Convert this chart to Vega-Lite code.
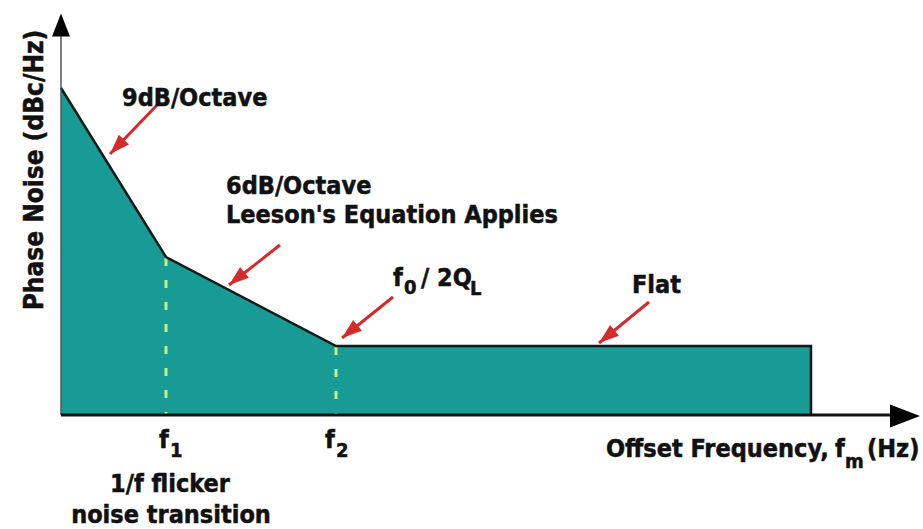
{
  "$schema": "https://vega.github.io/schema/vega-lite/v6.json",
  "width": 923,
  "height": 529,
  "autosize": "none",
  "padding": 0,
  "background": "white",
  "config": {
    "view": {"stroke": null},
    "text": {"font": "Liberation Sans Narrow, DejaVu Sans Condensed, Roboto, sans-serif", "fontWeight": "bold", "color": "#111111", "stroke": "#111111", "strokeWidth": 0.5}
  },
  "datasets": {
    "region": [
      {"x": 0, "y": 327},
      {"x": 105, "y": 158},
      {"x": 275, "y": 69},
      {"x": 750, "y": 69}
    ],
    "profile": [
      {"x": 0, "y": 327, "i": 0},
      {"x": 105, "y": 158, "i": 1},
      {"x": 275, "y": 69, "i": 2},
      {"x": 750, "y": 69, "i": 3},
      {"x": 750, "y": 0, "i": 4}
    ],
    "corners": [
      {"x": 105, "y": 157, "y2": 0},
      {"x": 275, "y": 68, "y2": 0}
    ],
    "xaxis": [{"x": 0, "y": 0, "x2": 832, "y2": 0}],
    "yaxis": [{"x": 0, "y": 0, "x2": 0, "y2": 386}],
    "xhead": [{"x": 844, "y": -1}],
    "yhead": [{"x": 0, "y": 390}],
    "pointer_steep": [{"x": 98, "y": 312, "x2": 49, "y2": 261}],
    "pointers": [
      {"x": 219, "y": 170, "x2": 168, "y2": 130},
      {"x": 332, "y": 118, "x2": 281, "y2": 77},
      {"x": 588, "y": 113, "x2": 538, "y2": 72}
    ],
    "labels": [
      {"x": 61, "y": 309, "label": "9dB/Octave"},
      {"x": 165, "y": 221, "label": "6dB/Octave"},
      {"x": 165, "y": 192, "label": "Leeson's Equation Applies"},
      {"x": 332, "y": 129, "label": "f"},
      {"x": 360, "y": 129, "label": "/"},
      {"x": 376, "y": 129, "label": "2Q"},
      {"x": 571, "y": 122, "label": "Flat"},
      {"x": 98, "y": -33, "label": "f"},
      {"x": 264, "y": -33, "label": "f"},
      {"x": 545, "y": -42, "label": "Offset Frequency,"},
      {"x": 774, "y": -42, "label": "f"},
      {"x": 806, "y": -42, "label": "(Hz)"}
    ],
    "subscripts": [
      {"x": 343, "y": 121, "label": "0"},
      {"x": 409, "y": 120, "label": "L"},
      {"x": 109, "y": -42, "label": "1"},
      {"x": 275, "y": -42, "label": "2"},
      {"x": 784, "y": -53, "label": "m"}
    ],
    "notes": [
      {"x": 109, "y": -77, "label": "1/f flicker"},
      {"x": 110, "y": -108, "label": "noise transition"}
    ],
    "ytitle": [{"x": -18, "y": 245, "label": "Phase Noise (dBc/Hz)"}]
  },
  "encoding": {
    "x": {"field": "x", "type": "quantitative", "scale": {"domain": [-61, 862], "nice": false, "zero": false}, "axis": null},
    "y": {"field": "y", "type": "quantitative", "scale": {"domain": [-114, 415], "nice": false, "zero": false}, "axis": null}
  },
  "layer": [
    {
      "data": {"name": "region"},
      "mark": {"type": "area", "fill": "#189a95", "fillOpacity": 1, "stroke": null},
      "encoding": {
        "y": {"field": "y", "type": "quantitative", "stack": null},
        "y2": {"datum": 0}
      }
    },
    {
      "data": {"name": "corners"},
      "mark": {"type": "rule", "color": "#c4ee86", "strokeWidth": 3, "strokeDash": [8, 14]},
      "encoding": {"y2": {"field": "y2"}}
    },
    {
      "data": {"name": "profile"},
      "mark": {"type": "line", "color": "#0d1a1a", "strokeWidth": 2.5, "strokeJoin": "miter"},
      "encoding": {"order": {"field": "i", "type": "quantitative"}}
    },
    {
      "data": {"name": "yaxis"},
      "mark": {"type": "rule", "color": "#555555", "strokeWidth": 1.5},
      "encoding": {"x2": {"field": "x2"}, "y2": {"field": "y2"}}
    },
    {
      "data": {"name": "xaxis"},
      "mark": {"type": "rule", "color": "#111111", "strokeWidth": 3},
      "encoding": {"x2": {"field": "x2"}, "y2": {"field": "y2"}}
    },
    {
      "data": {"name": "xhead"},
      "mark": {"type": "point", "shape": "M1,0L-1,-0.77L-1,0.77Z", "size": 900, "filled": true, "color": "#000000", "opacity": 1}
    },
    {
      "data": {"name": "yhead"},
      "mark": {"type": "point", "shape": "M0,-1L0.78,1L-0.78,1Z", "size": 529, "filled": true, "color": "#000000", "opacity": 1}
    },
    {
      "data": {"name": "pointer_steep"},
      "mark": {"type": "rule", "color": "#d42a2c", "strokeWidth": 3},
      "encoding": {"x2": {"field": "x2"}, "y2": {"field": "y2"}}
    },
    {
      "data": {"name": "pointer_steep"},
      "mark": {"type": "point", "shape": "M0,0L-2,-0.7L-2,0.7Z", "size": 400, "angle": 134, "filled": true, "color": "#d42a2c", "opacity": 1},
      "encoding": {"x": {"field": "x2", "type": "quantitative"}, "y": {"field": "y2", "type": "quantitative"}}
    },
    {
      "data": {"name": "pointers"},
      "mark": {"type": "rule", "color": "#d42a2c", "strokeWidth": 3},
      "encoding": {"x2": {"field": "x2"}, "y2": {"field": "y2"}}
    },
    {
      "data": {"name": "pointers"},
      "mark": {"type": "point", "shape": "M0,0L-2,-0.7L-2,0.7Z", "size": 400, "angle": 141, "filled": true, "color": "#d42a2c", "opacity": 1},
      "encoding": {"x": {"field": "x2", "type": "quantitative"}, "y": {"field": "y2", "type": "quantitative"}}
    },
    {
      "data": {"name": "labels"},
      "mark": {"type": "text", "fontSize": 25, "align": "left", "baseline": "alphabetic"},
      "encoding": {"text": {"field": "label"}}
    },
    {
      "data": {"name": "subscripts"},
      "mark": {"type": "text", "fontSize": 20, "align": "left", "baseline": "alphabetic"},
      "encoding": {"text": {"field": "label"}}
    },
    {
      "data": {"name": "notes"},
      "mark": {"type": "text", "fontSize": 25, "align": "center", "baseline": "alphabetic"},
      "encoding": {"text": {"field": "label"}}
    },
    {
      "data": {"name": "ytitle"},
      "mark": {"type": "text", "fontSize": 26, "align": "center", "baseline": "alphabetic", "angle": 270},
      "encoding": {"text": {"field": "label"}}
    }
  ]
}
